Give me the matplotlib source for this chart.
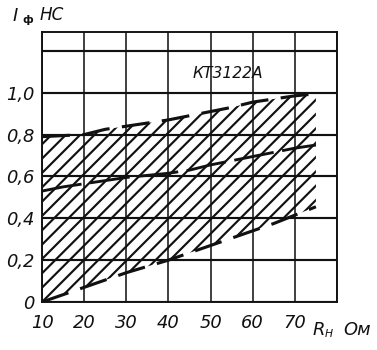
import numpy as np
import matplotlib.pyplot as plt

# load resistance, Ohm
r_load = [10, 15, 20, 25, 30, 35, 40, 45, 50, 55, 60, 65, 70, 75]
# switching time, ns
t_upper = [0.79, 0.795, 0.80, 0.825, 0.84, 0.855, 0.87, 0.89, 0.91, 0.93, 0.955, 0.97, 0.985, 0.995]
t_middle = [0.53, 0.55, 0.565, 0.58, 0.595, 0.605, 0.615, 0.63, 0.655, 0.675, 0.695, 0.715, 0.735, 0.75]
t_lower = [0.0, 0.035, 0.07, 0.105, 0.14, 0.17, 0.20, 0.235, 0.27, 0.305, 0.34, 0.375, 0.415, 0.455]

x_grid = [10, 20, 30, 40, 50, 60, 70, 80]
x_labels = ['10', '20', '30', '40', '50', '60', '70']
y_grid = [0, 0.2, 0.4, 0.6, 0.8, 1.0, 1.2]
y_labels = ['0', '0,2', '0,4', '0,6', '0,8', '1,0']

DPI = 86
plt.rcParams['font.family'] = ['Liberation Sans Narrow', 'DejaVu Sans']
plt.rcParams['hatch.linewidth'] = 1.8

fig = plt.figure(figsize=(377 / DPI, 350 / DPI), dpi=DPI)
ax = fig.add_axes([42 / 377, 1 - 302 / 350, 295 / 377, 270 / 350])
ax.set_xlim(10, 80)
ax.set_ylim(0, 1.29)

ink = '#111111'

# grid
for x in x_grid:
    ax.axvline(x, color=ink, lw=1.3, zorder=1)
for y in y_grid:
    ax.axhline(y, color=ink, lw=1.8, zorder=1)

# hatched band between lower and upper curve
ax.fill_between(r_load, t_lower, t_upper, facecolor='none', edgecolor=ink,
                hatch='//', linewidth=0, zorder=2)

ax.plot(r_load, t_upper, color=ink, lw=2.6, dashes=(9, 4), zorder=3)
ax.plot(r_load, t_middle, color=ink, lw=2.4, dashes=(14, 3), zorder=3)
ax.plot(r_load, t_lower, color=ink, lw=2.6, dashes=(9, 4), zorder=3)

for s in ax.spines.values():
    s.set_color(ink)
    s.set_linewidth(1.6)

ax.set_xticks(x_grid[:-1])
ax.set_xticklabels(x_labels)
ax.set_yticks(y_grid[:-1])
ax.set_yticklabels(y_labels)
ax.tick_params(length=0, labelsize=15, pad=6, colors=ink)
ax.tick_params(axis='x', pad=10)
for lab in ax.get_xticklabels() + ax.get_yticklabels():
    lab.set_style('italic')

ax.text(54, 1.09, 'КТ3122А', ha='center', va='center', fontsize=13,
        style='italic', color=ink)

# axis captions
fig.text(13 / 377, 1 - 16 / 350, 'I', fontsize=15, style='italic', color=ink,
         ha='left', va='center')
fig.text(22 / 377, 1 - 20 / 350, 'ф', fontsize=9, weight='bold', color=ink,
         ha='left', va='center')
fig.text(40 / 377, 1 - 15 / 350, 'НС', fontsize=14, style='italic', color=ink,
         ha='left', va='center')
fig.text(313 / 377, 1 - 330 / 350, 'R', fontsize=15, style='italic', color=ink,
         ha='left', va='center')
fig.text(325 / 377, 1 - 334 / 350, 'Н', fontsize=9, style='italic', color=ink,
         ha='left', va='center')
fig.text(343 / 377, 1 - 330 / 350, 'Ом', fontsize=15, style='italic', color=ink,
         ha='left', va='center')

fig.savefig('out.png', dpi=DPI, facecolor='white')
